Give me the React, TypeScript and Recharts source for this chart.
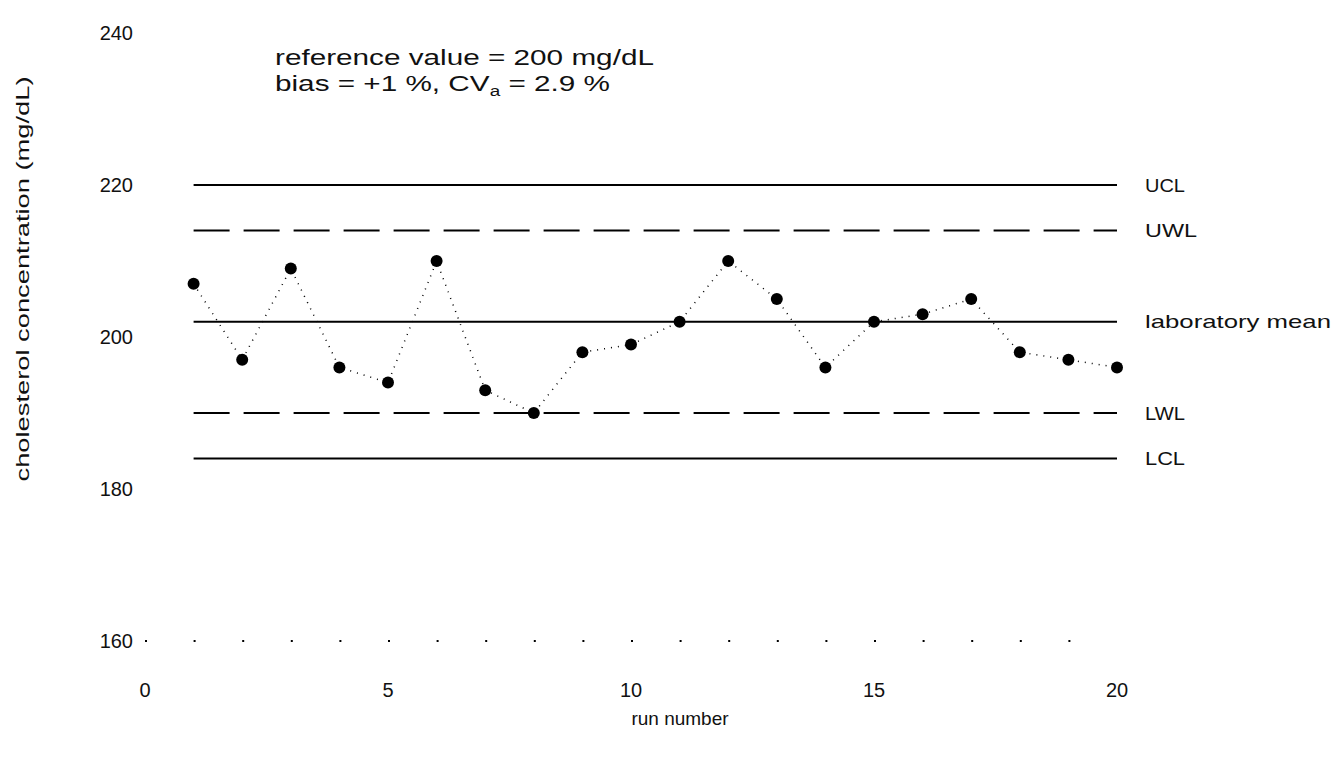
import React from 'react';
import { ComposedChart, Line, XAxis, YAxis, ReferenceLine } from 'recharts';

const runs = [1, 2, 3, 4, 5, 6, 7, 8, 9, 10, 11, 12, 13, 14, 15, 16, 17, 18, 19, 20];
const cholesterol = [207, 197, 209, 196, 194, 210, 193, 190, 198, 199, 202, 210, 205, 196, 202, 203, 205, 198, 197, 196];

const limitNames = ['UCL', 'UWL', 'laboratory mean', 'LWL', 'LCL'];
const limitValues = [220, 214, 202, 190, 184];
const limitDash = ['', '36 14', '', '36 14', ''];
// stretched label widths seen in the source image
const limitTextWidth = [40, 52, 186, 40, 40];

const xTicks = [0, 5, 10, 15, 20];
const yTicks = [160, 180, 200, 220, 240];

const FONT = '"Liberation Sans", Arial, sans-serif';
const INK = '#111';

const rows = runs.map((run, i) => ({ run, value: cholesterol[i] }));

function YTitle(props: any) {
  const vb = props.viewBox;
  const x = vb.x + 12;
  const y = vb.y + vb.height / 2 - 58;
  return (
    <text
      x={x}
      y={y}
      transform={`rotate(-90, ${x}, ${y})`}
      textAnchor="middle"
      dominantBaseline="central"
      fontSize={19}
      fontFamily={FONT}
      fill={INK}
      textLength={405}
      lengthAdjust="spacingAndGlyphs"
    >
      cholesterol concentration (mg/dL)
    </text>
  );
}

function XTitle(props: any) {
  const vb = props.viewBox;
  return (
    <text
      x={vb.x + vb.width / 2 + 49}
      y={vb.y + 77}
      textAnchor="middle"
      dominantBaseline="central"
      fontSize={19}
      fontFamily={FONT}
      fill={INK}
    >
      run number
    </text>
  );
}

function limitLabel(i: number) {
  return (props: any) => {
    const vb = props.viewBox;
    return (
      <text
        x={vb.x + vb.width + 28}
        y={vb.y + vb.height / 2}
        dominantBaseline="central"
        fontSize={19}
        fontFamily={FONT}
        fill={INK}
        textLength={limitTextWidth[i]}
        lengthAdjust="spacingAndGlyphs"
      >
        {limitNames[i]}
      </text>
    );
  };
}

export default function App() {
  return (
    <div style={{ position: 'absolute', left: 0, top: 0, width: 1336, height: 757, background: '#fff' }}>
      <ComposedChart
        width={1336}
        height={757}
        data={rows}
        margin={{ top: 33, right: 219, bottom: 56, left: 10 }}
      >
        <XAxis
          type="number"
          dataKey="run"
          domain={[0, 20]}
          ticks={xTicks}
          tickLine={false}
          axisLine={{ stroke: '#000', strokeWidth: 2, strokeDasharray: '2 46.6' }}
          tickMargin={36}
          height={60}
          tick={{ fontSize: 20, fill: INK, fontFamily: FONT }}
          label={{ content: XTitle }}
        />
        <YAxis
          type="number"
          domain={[160, 240]}
          ticks={yTicks}
          tickLine={false}
          axisLine={false}
          tickMargin={6}
          width={135}
          tick={{ fontSize: 20, fill: INK, fontFamily: FONT }}
          label={{ content: YTitle }}
        />
        {limitValues.map((v, i) => (
          <ReferenceLine
            key={limitNames[i]}
            segment={[
              { x: runs[0], y: v },
              { x: runs[runs.length - 1], y: v },
            ]}
            stroke="#000"
            strokeWidth={2}
            strokeDasharray={limitDash[i] || undefined}
            label={{ content: limitLabel(i) }}
          />
        ))}
        <Line
          type="linear"
          dataKey="value"
          stroke="#000"
          strokeWidth={1.5}
          strokeDasharray="1 6"
          dot={{ r: 6, fill: '#000', stroke: 'none' }}
          activeDot={false}
          isAnimationActive={false}
        />
      </ComposedChart>
      <div
        style={{
          position: 'absolute',
          left: 275,
          top: 45,
          fontFamily: FONT,
          fontSize: 22,
          lineHeight: '26px',
          color: INK,
          whiteSpace: 'nowrap',
          transform: 'scaleX(1.35)',
          transformOrigin: 'left top',
        }}
      >
        <div>reference value = 200 mg/dL</div>
        <div>
          bias = +1 %, CV<sub style={{ fontSize: 14 }}>a</sub> = 2.9 %
        </div>
      </div>
    </div>
  );
}
